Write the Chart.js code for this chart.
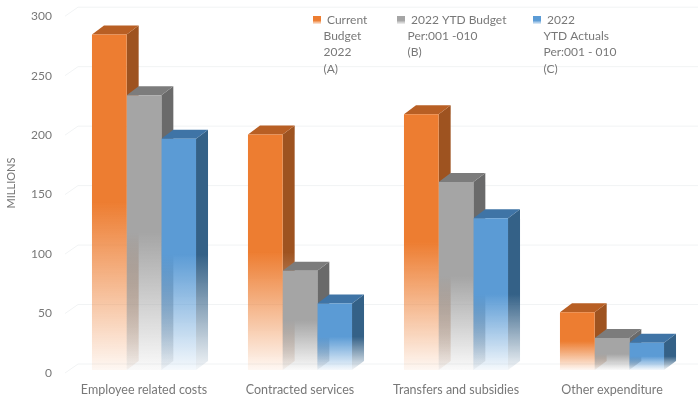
<!DOCTYPE html>
<html>
<head>
<meta charset="utf-8">
<style>
    html, body { margin: 0; padding: 0; background: #fff; }
    #grafico { display: block; }
</style>
<script src="https://cdn.jsdelivr.net/npm/chart.js@4/dist/chart.umd.min.js"></script>
</head>
<body>
<canvas id="grafico" width="698" height="399"></canvas>
<script>
const categorias = ['Employee related costs', 'Contracted services', 'Transfers and subsidies', 'Other expenditure'];
const presupuesto = [282, 198, 215, 48.5];
const presupuestoYtd = [231, 83.5, 158, 27];
const realesYtd = [194.5, 56, 127.5, 23];
const nombresSeries = ['Current Budget 2022 (A)', '2022 YTD Budget Per:001 -010 (B)', '2022 YTD Actuals Per:001 - 010 (C)'];
const leyendaA = ['Current', 'Budget', '2022', '(A)'];
const leyendaB = ['2022 YTD Budget', 'Per:001 -010', '(B)'];
const leyendaC = ['2022', 'YTD Actuals', 'Per:001 - 010', '(C)'];
const ticksY = [0, 50, 100, 150, 200, 250, 300];
const tituloY = 'MILLIONS';

const colores = [
    { frente: [237, 125, 49], lado: [158, 83, 32], tapa: [184, 95, 36] },
    { frente: [165, 165, 165], lado: [106, 106, 106], tapa: [124, 124, 124] },
    { frente: [91, 155, 213], lado: [52, 97, 135], tapa: [63, 116, 166] }
];
const FONDO_X = 12, FONDO_Y = 9;
const FUENTE = 'Lato, "Open Sans", sans-serif';
const GRIS_TEXTO = '#787878';

function rgba(c, a) {
    return 'rgba(' + c[0] + ',' + c[1] + ',' + c[2] + ',' + a + ')';
}

// solido en la mitad de arriba, se desvanece hacia la base
function degradado(ctx, arriba, abajo, c) {
    const g = ctx.createLinearGradient(0, arriba, 0, abajo);
    g.addColorStop(0, rgba(c, 1));
    g.addColorStop(0.5, rgba(c, 1));
    g.addColorStop(1, rgba(c, 0.06));
    return g;
}

function colorFrente(context) {
    const c = colores[context.datasetIndex].frente;
    const chart = context.chart;
    if (!context.parsed || !chart.scales.y) return rgba(c, 1);
    const y = chart.scales.y;
    const arriba = y.getPixelForValue(context.parsed.y);
    const abajo = y.getPixelForValue(0);
    // la escala aun no tiene medidas en la primera pasada
    if (!isFinite(arriba) || !isFinite(abajo)) return rgba(c, 1);
    return degradado(chart.ctx, arriba, abajo, c);
}

// paredes del fondo y caras laterales de las barras
const caras3d = {
    id: 'caras3d',
    beforeDatasetsDraw(chart) {
        const ctx = chart.ctx;
        const y = chart.scales.y;
        ctx.save();
        ctx.strokeStyle = '#f1f3f4';
        ctx.lineWidth = 1;
        for (const t of ticksY) {
            const py = y.getPixelForValue(t) + 3;
            ctx.beginPath();
            ctx.moveTo(65, py);
            ctx.lineTo(65 + FONDO_X + 1, py - FONDO_Y);
            ctx.lineTo(698, py - FONDO_Y);
            ctx.stroke();
        }
        chart.data.datasets.forEach((ds, i) => {
            const c = colores[i];
            chart.getDatasetMeta(i).data.forEach(bar => {
                const der = bar.x + bar.width / 2;
                const izq = bar.x - bar.width / 2;
                ctx.fillStyle = degradado(ctx, bar.y, bar.base, c.lado);
                ctx.beginPath();
                ctx.moveTo(der, bar.y);
                ctx.lineTo(der + FONDO_X, bar.y - FONDO_Y);
                ctx.lineTo(der + FONDO_X, bar.base - FONDO_Y);
                ctx.lineTo(der, bar.base);
                ctx.closePath();
                ctx.fill();
                ctx.fillStyle = rgba(c.tapa, 1);
                ctx.beginPath();
                ctx.moveTo(izq, bar.y);
                ctx.lineTo(izq + FONDO_X, bar.y - FONDO_Y);
                ctx.lineTo(der + FONDO_X, bar.y - FONDO_Y);
                ctx.lineTo(der, bar.y);
                ctx.closePath();
                ctx.fill();
            });
        });
        ctx.restore();
    }
};

// leyenda y titulo a mano: chart.js no deja partir las entradas asi
// y el titulo del eje no va centrado en el original
const leyenda = {
    id: 'leyendaManual',
    afterDraw(chart) {
        const ctx = chart.ctx;
        const entradas = [
            { x: 313, lineas: leyendaA },
            { x: 397, lineas: leyendaB },
            { x: 533, lineas: leyendaC }
        ];
        ctx.save();
        ctx.font = '12px ' + FUENTE;
        ctx.textBaseline = 'middle';
        entradas.forEach((e, i) => {
            const g = ctx.createLinearGradient(0, 16, 0, 24);
            g.addColorStop(0, rgba(colores[i].frente, 1));
            g.addColorStop(0.55, rgba(colores[i].frente, 1));
            g.addColorStop(1, rgba(colores[i].frente, 0.15));
            ctx.fillStyle = g;
            ctx.fillRect(e.x, 16, 8, 8);
            ctx.fillStyle = GRIS_TEXTO;
            e.lineas.forEach((linea, n) => {
                ctx.fillText(linea, e.x + (n === 0 ? 14 : 10.5), 20 + n * 16.3);
            });
        });
        ctx.font = '11px ' + FUENTE;
        ctx.textAlign = 'center';
        ctx.translate(11, 183);
        ctx.rotate(-Math.PI / 2);
        ctx.fillText(tituloY, 0, 0);
        ctx.restore();
    }
};

new Chart(document.getElementById('grafico').getContext('2d'), {
    type: 'bar',
    data: {
        labels: categorias,
        datasets: [
            { label: nombresSeries[0], data: presupuesto, backgroundColor: colorFrente },
            { label: nombresSeries[1], data: presupuestoYtd, backgroundColor: colorFrente },
            { label: nombresSeries[2], data: realesYtd, backgroundColor: colorFrente }
        ]
    },
    options: {
        responsive: false,
        animation: false,
        layout: { padding: { top: 2.5, right: 8, bottom: 0, left: 0 } },
        datasets: {
            bar: {
                barPercentage: 1,
                categoryPercentage: 0.667,
                borderWidth: 0
            }
        },
        plugins: {
            legend: { display: false },
            tooltip: { enabled: false }
        },
        scales: {
            x: {
                afterFit(scale) { scale.height = 29; },
                grid: { display: false },
                border: { display: false },
                ticks: {
                    color: GRIS_TEXTO,
                    padding: 4,
                    maxRotation: 0,
                    font: { family: FUENTE, size: 12.5 }
                }
            },
            y: {
                min: 0,
                max: 300,
                afterFit(scale) { scale.width = 66; },
                grid: { display: false },
                border: { display: false },
                ticks: {
                    stepSize: 50,
                    color: GRIS_TEXTO,
                    padding: 6,
                    labelOffset: 3,
                    font: { family: FUENTE, size: 12 }
                }
            }
        }
    },
    plugins: [caras3d, leyenda]
});
</script>
</body>
</html>
